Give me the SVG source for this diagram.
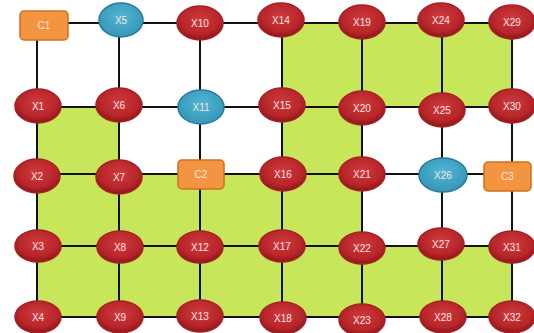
<svg xmlns="http://www.w3.org/2000/svg" width="534" height="333" viewBox="0 0 534 333">
<defs>
<radialGradient id="gRed" cx="50%" cy="40%" r="60%">
<stop offset="0" stop-color="#cf3a3c"/>
<stop offset="0.7" stop-color="#b8262a"/>
<stop offset="1" stop-color="#8e1519"/>
</radialGradient>
<radialGradient id="gBlue" cx="50%" cy="40%" r="60%">
<stop offset="0" stop-color="#52b6d2"/>
<stop offset="1" stop-color="#3596b8"/>
</radialGradient>
<style>
.red{fill:url(#gRed);stroke:#a42226;stroke-width:1.5}
.blue{fill:url(#gBlue);stroke:#2a7a98;stroke-width:1.5}
.org{fill:#f29440;stroke:#d0701e;stroke-width:1.5}
.lbl{font-family:"Liberation Sans",Arial,sans-serif;font-size:10px;fill:#f8e4e4;text-anchor:middle;dominant-baseline:central}
.edge{stroke:#111;stroke-width:2;fill:none}
.green{fill:#c8e65a}
</style>
</defs>
<rect width="534" height="333" fill="#ffffff"/>
<g id="areas">
<rect class="green" x="282" y="23" width="230" height="84"/>
<rect class="green" x="37" y="107" width="82" height="67"/>
<rect class="green" x="282" y="107" width="80" height="67"/>
<rect class="green" x="37" y="174" width="325" height="72"/>
<rect class="green" x="37" y="246" width="475" height="71"/>
</g>
<g id="connectors">
<path class="edge" d="M37 23H512M37 107H512M37 174H512M37 246H512M37 317H512"/>
<path class="edge" d="M37 23V317M119 23V317M200 23V317M282 23V317M362 23V317M442 23V317M512 23V317"/>
</g>
<g id="C1"><rect class="org" x="20" y="11" width="48" height="29" rx="4"/><text class="lbl" x="44" y="25.5">C1</text></g>
<g id="X5"><ellipse class="blue" cx="121" cy="20" rx="22" ry="17"/><text class="lbl" x="121" y="20">X5</text></g>
<g id="X10"><ellipse class="red" cx="200" cy="23" rx="23" ry="17"/><text class="lbl" x="200" y="23">X10</text></g>
<g id="X14"><ellipse class="red" cx="281" cy="20" rx="23" ry="17"/><text class="lbl" x="281" y="20">X14</text></g>
<g id="X19"><ellipse class="red" cx="362" cy="22" rx="23" ry="17"/><text class="lbl" x="362" y="22">X19</text></g>
<g id="X24"><ellipse class="red" cx="441" cy="20" rx="23" ry="17"/><text class="lbl" x="441" y="20">X24</text></g>
<g id="X29"><ellipse class="red" cx="512" cy="22" rx="23" ry="17"/><text class="lbl" x="512" y="22">X29</text></g>

<g id="X1"><ellipse class="red" cx="38" cy="106" rx="23" ry="17"/><text class="lbl" x="38" y="106">X1</text></g>
<g id="X6"><ellipse class="red" cx="119" cy="105" rx="23" ry="17"/><text class="lbl" x="119" y="105">X6</text></g>
<g id="X11"><ellipse class="blue" cx="201" cy="107" rx="23" ry="17"/><text class="lbl" x="201" y="107">X11</text></g>
<g id="X15"><ellipse class="red" cx="282" cy="105" rx="23" ry="17"/><text class="lbl" x="282" y="105">X15</text></g>
<g id="X20"><ellipse class="red" cx="362" cy="108" rx="23" ry="17"/><text class="lbl" x="362" y="108">X20</text></g>
<g id="X25"><ellipse class="red" cx="442" cy="110" rx="23" ry="17"/><text class="lbl" x="442" y="110">X25</text></g>
<g id="X30"><ellipse class="red" cx="512" cy="106" rx="23" ry="17"/><text class="lbl" x="512" y="106">X30</text></g>

<g id="X2"><ellipse class="red" cx="37" cy="176" rx="23" ry="17"/><text class="lbl" x="37" y="176">X2</text></g>
<g id="X7"><ellipse class="red" cx="119" cy="177" rx="23" ry="17"/><text class="lbl" x="119" y="177">X7</text></g>
<g id="C2"><rect class="org" x="178" y="160" width="46" height="29" rx="4"/><text class="lbl" x="201" y="174.5">C2</text></g>
<g id="X16"><ellipse class="red" cx="283" cy="174" rx="23" ry="17"/><text class="lbl" x="283" y="174">X16</text></g>
<g id="X21"><ellipse class="red" cx="362" cy="174" rx="23" ry="17"/><text class="lbl" x="362" y="174">X21</text></g>
<g id="X26"><ellipse class="blue" cx="443" cy="175" rx="24" ry="17"/><text class="lbl" x="443" y="175">X26</text></g>
<g id="C3"><rect class="org" x="484" y="162" width="47" height="29" rx="4"/><text class="lbl" x="507.5" y="176.5">C3</text></g>

<g id="X3"><ellipse class="red" cx="38" cy="246" rx="23" ry="16"/><text class="lbl" x="38" y="246">X3</text></g>
<g id="X8"><ellipse class="red" cx="120" cy="247" rx="23" ry="16"/><text class="lbl" x="120" y="247">X8</text></g>
<g id="X12"><ellipse class="red" cx="200" cy="247" rx="23" ry="16"/><text class="lbl" x="200" y="247">X12</text></g>
<g id="X17"><ellipse class="red" cx="282" cy="246" rx="23" ry="16"/><text class="lbl" x="282" y="246">X17</text></g>
<g id="X22"><ellipse class="red" cx="362" cy="248" rx="23" ry="16"/><text class="lbl" x="362" y="248">X22</text></g>
<g id="X27"><ellipse class="red" cx="441" cy="244" rx="23" ry="16"/><text class="lbl" x="441" y="244">X27</text></g>
<g id="X31"><ellipse class="red" cx="512" cy="247" rx="23" ry="16"/><text class="lbl" x="512" y="247">X31</text></g>

<g id="X4"><ellipse class="red" cx="38" cy="317" rx="23" ry="16"/><text class="lbl" x="38" y="317">X4</text></g>
<g id="X9"><ellipse class="red" cx="120" cy="317" rx="23" ry="16"/><text class="lbl" x="120" y="317">X9</text></g>
<g id="X13"><ellipse class="red" cx="200" cy="316" rx="23" ry="16"/><text class="lbl" x="200" y="316">X13</text></g>
<g id="X18"><ellipse class="red" cx="283" cy="318" rx="23" ry="16"/><text class="lbl" x="283" y="318">X18</text></g>
<g id="X23"><ellipse class="red" cx="362" cy="320" rx="23" ry="16"/><text class="lbl" x="362" y="320">X23</text></g>
<g id="X28"><ellipse class="red" cx="443" cy="317" rx="23" ry="16"/><text class="lbl" x="443" y="317">X28</text></g>
<g id="X32"><ellipse class="red" cx="512" cy="317" rx="23" ry="16"/><text class="lbl" x="512" y="317">X32</text></g>
</svg>
